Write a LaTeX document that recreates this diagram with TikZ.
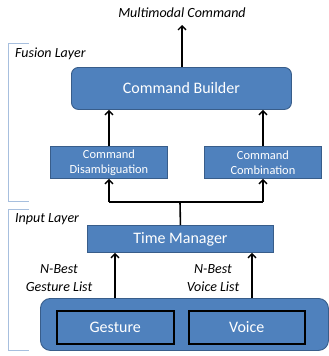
\documentclass[tikz,border=0pt]{standalone}
\usepackage{fontspec}
\setmainfont{Carlito}
\usetikzlibrary{arrows.meta,calc}
\definecolor{boxfill}{HTML}{4F81BD}
\definecolor{boxline}{HTML}{385D8A}
\definecolor{bracket}{HTML}{A7BFDE}
\begin{document}
\begin{tikzpicture}[x=1pt,y=-1pt,
  blue box/.style={draw=boxline,fill=boxfill,line width=0.9pt,text=white,inner sep=0pt,anchor=north west},
  inner box/.style={draw=black,fill=boxfill,line width=1.5pt,text=white,inner sep=0pt,anchor=north west},
  arr/.style={draw=black,line width=1.6pt,-{Straight Barb[length=4pt,width=8pt,line width=1.4pt]}},
  conn/.style={draw=black,line width=1.6pt},
  lbl/.style={font=\fontsize{14}{18}\selectfont\itshape,align=center,inner sep=0pt},
  brk/.style={draw=bracket,line width=1pt}]
\useasboundingbox (0,0) rectangle (329,356);
% brackets
\draw[brk] (29,43) -- (8.5,43) -- (8.5,201) -- (29,201);
\draw[brk] (29,209) -- (8.5,209) -- (8.5,350) -- (29,350);
\node[lbl,anchor=west] (fl) at (15,54) {Fusion Layer};
\node[lbl,anchor=west] (il) at (15,219) {Input Layer};
% title
\node[lbl] (mc) at (182,13) {Multimodal Command};
\coordinate (mctip) at (182,25);
% boxes
\node[blue box,rounded corners=7pt,minimum width=220pt,minimum height=42pt,font=\fontsize{16}{18}\selectfont] (cb) at (71,67) {Command Builder};
\node[blue box,minimum width=117pt,minimum height=32pt,align=center,font=\fontsize{12.4}{15}\selectfont] (dis) at (50,146) {Command\\Disambiguation};
\node[blue box,minimum width=117pt,minimum height=32pt,align=center,font=\fontsize{12.4}{15}\selectfont] (com) at (204,146) {Command\\Combination};
\node[blue box,minimum width=186pt,minimum height=27pt,font=\fontsize{16}{18}\selectfont] (tm) at (87,225) {Time Manager};
\node[blue box,rounded corners=10pt,minimum width=288pt,minimum height=52pt] (outer) at (40,298) {};
\node[inner box,minimum width=117pt,minimum height=33pt,font=\fontsize{16}{18}\selectfont] (ges) at (56,310) {Gesture};
\node[inner box,minimum width=116pt,minimum height=33pt,font=\fontsize{16}{18}\selectfont] (voi) at (188,310) {Voice};
% connectors
\draw[arr] (cb.north -| mctip) -- (mctip);
\draw[arr] (dis.north) -- (dis.north |- cb.south);
\draw[arr] (com.north) -- (com.north |- cb.south);
\coordinate (jn) at (180,202);
\draw[conn] (tm.north) -- (jn);
\draw[conn,line join=miter] (dis.south |- jn) -- (com.south |- jn);
\draw[arr] (dis.south |- jn) -- (dis.south);
\draw[arr] (com.south |- jn) -- (com.south);
\coordinate (gx) at (115,0);
\coordinate (vx) at (252,0);
\draw[arr] (outer.north -| gx) -- (tm.south -| gx);
\draw[arr] (outer.north -| vx) -- (tm.south -| vx);
\node[lbl] (gl) at (59,278) {N-Best\\Gesture List};
\node[lbl] (vl) at (213,278) {N-Best\\Voice List};
\end{tikzpicture}
\end{document}
